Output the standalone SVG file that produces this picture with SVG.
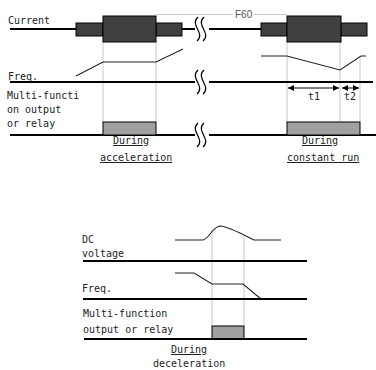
<svg xmlns="http://www.w3.org/2000/svg" width="376" height="370" viewBox="0 0 376 370">
<defs>
<style>
.t{font-family:"DejaVu Sans Mono","Liberation Mono",monospace;font-size:10px;fill:#222}
.u{text-decoration:underline}
.base{stroke:#000;stroke-width:2;fill:none}
.sig{stroke:#222;stroke-width:1.1;fill:none}
.guide{stroke:#c8c8c8;stroke-width:1;fill:none}
.blk{fill:#404040;stroke:#000;stroke-width:1}
.on{fill:#a0a0a0;stroke:#000;stroke-width:1}
.brk{stroke:#000;stroke-width:1.2;fill:none}
.dim{stroke:#000;stroke-width:1;fill:none}
</style>
<marker id="ah" markerWidth="6" markerHeight="6" refX="6" refY="3" orient="auto-start-reverse" markerUnits="userSpaceOnUse">
<path d="M0,0 L6,3 L0,6 Z" fill="#000"/>
</marker>
<path id="brk" d="M4,-12 C-5,-4 12,4 3,12 M10,-12 C1,-4 18,4 9,12"/>
</defs>
<rect width="376" height="370" fill="#fff"/>

<g id="guides">
<line class="guide" x1="103" y1="42" x2="103" y2="122"/>
<line class="guide" x1="156" y1="42" x2="156" y2="122"/>
<line class="guide" x1="287" y1="42" x2="287" y2="122"/>
<line class="guide" x1="340" y1="42" x2="340" y2="122"/>
<line class="guide" x1="360" y1="56" x2="360" y2="122"/>
<line class="guide" x1="156" y1="14.5" x2="233" y2="14.5"/>
<line class="guide" x1="254" y1="14.5" x2="287" y2="14.5"/>
<line class="guide" x1="212" y1="230" x2="212" y2="326"/>
<line class="guide" x1="244" y1="234" x2="244" y2="326"/>
</g>

<g id="current">
<text class="t" x="8" y="24">Current</text>
<path class="base" d="M10,29 H195 M209,29 H261"/>
<use href="#brk" class="brk" x="194" y="29"/>
<rect class="blk" x="76" y="23" width="27" height="13"/>
<rect class="blk" x="156" y="23" width="26" height="13"/>
<rect class="blk" x="103" y="16" width="53" height="26"/>
<rect class="blk" x="261" y="23" width="26" height="13"/>
<rect class="blk" x="341" y="23" width="26" height="13"/>
<rect class="blk" x="287" y="16" width="54" height="26"/>
<text x="235" y="18" style="font-family:'Liberation Sans',Arial,sans-serif;font-size:10px;fill:#555">F60</text>
</g>

<g id="freq-top">
<text class="t" x="8" y="80">Freq.</text>
<path class="base" d="M10,82 H195 M209,82 H373"/>
<use href="#brk" class="brk" x="194" y="82"/>
<polyline class="sig" points="76,76 103,62 156,62 183,49"/>
<polyline class="sig" points="261,56 287,56 340,70 361,56 366,56"/>
</g>

<g id="timing">
<line class="dim" x1="288" y1="88" x2="339" y2="88" marker-start="url(#ah)" marker-end="url(#ah)"/>
<line class="dim" x1="342" y1="88" x2="359" y2="88" marker-start="url(#ah)" marker-end="url(#ah)"/>
<text class="t" x="308" y="100">t1</text>
<text class="t" x="344" y="100">t2</text>
</g>

<g id="output-top">
<text class="t" x="7" y="99">Multi-functi</text>
<text class="t" x="7" y="113">on output</text>
<text class="t" x="7" y="127">or relay</text>
<path class="base" d="M10,135 H195 M209,135 H376"/>
<use href="#brk" class="brk" x="194" y="135"/>
<rect class="on" x="103" y="122" width="53" height="13"/>
<rect class="on" x="287" y="122" width="73" height="13"/>
<text class="t u" x="113" y="144">During</text>
<text class="t u" x="100" y="161">acceleration</text>
<text class="t u" x="302" y="144">During</text>
<text class="t u" x="287" y="161">constant run</text>
</g>

<g id="dc-voltage">
<text class="t" x="82" y="243">DC</text>
<text class="t" x="82" y="257">voltage</text>
<path class="sig" d="M175,240 L203,240 C210,238 212,227 220,226 C230,227 244,235 254,240 L281,240"/>
<line class="base" x1="83" y1="261" x2="307" y2="261"/>
</g>

<g id="freq-bottom">
<text class="t" x="82" y="292">Freq.</text>
<polyline class="sig" points="175,273 194,273 212,284 243,284 261,299"/>
<line class="base" x1="83" y1="299" x2="307" y2="299"/>
</g>

<g id="output-bottom">
<text class="t" x="83" y="317">Multi-function</text>
<text class="t" x="83" y="333">output or relay</text>
<rect class="on" x="212" y="326" width="32" height="13"/>
<line class="base" x1="84" y1="339" x2="307" y2="339"/>
<text class="t u" x="171" y="353">During</text>
<text class="t" x="153" y="367">deceleration</text>
</g>
</svg>
